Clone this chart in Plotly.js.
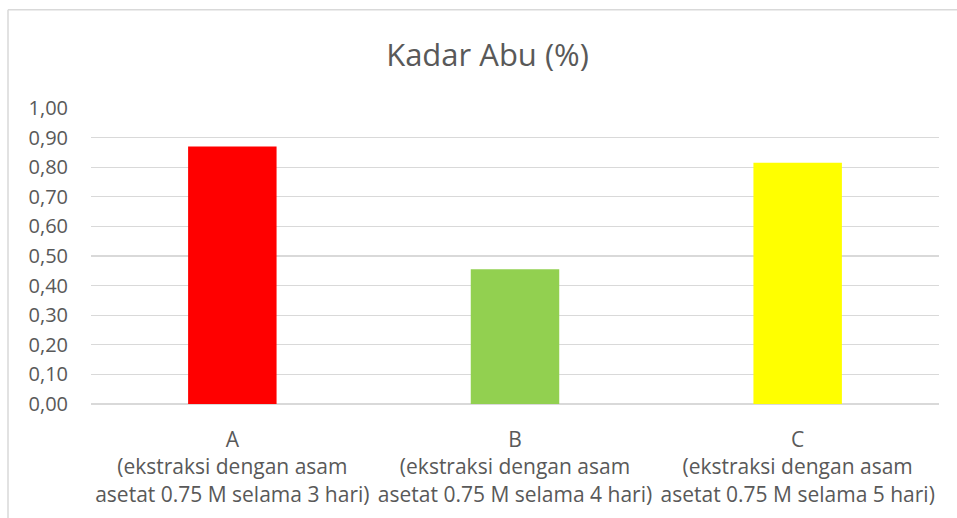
<!DOCTYPE html>
<html>
<head>
<meta charset="utf-8">
<script src="https://cdn.plot.ly/plotly-3.0.1.min.js"></script>
<style>
html,body{margin:0;padding:0;background:#fff;}
#chart{width:957px;height:518px;}
</style>
</head>
<body>
<div id="chart"></div>
<script>
const categories = [
  "A<br>(ekstraksi dengan asam<br>asetat 0.75 M selama 3 hari)",
  "B<br>(ekstraksi dengan asam<br>asetat 0.75 M selama 4 hari)",
  "C<br>(ekstraksi dengan asam<br>asetat 0.75 M selama 5 hari)"
];
const kadarAbu = [0.87, 0.455, 0.815];
const barColors = ["#FF0000", "#92D050", "#FFFF00"];
const yTickVals = [0, 0.1, 0.2, 0.3, 0.4, 0.5, 0.6, 0.7, 0.8, 0.9, 1.0];
const chartTitle = "Kadar Abu (%)";

const font = "Open Sans, sans-serif";
const textColor = "#595959";

const data = [{
  type: "bar",
  x: categories,
  y: kadarAbu,
  marker: {color: barColors, line: {width: 0}},
  hoverinfo: "none"
}];

const layout = {
  width: 957,
  height: 518,
  margin: {l: 91, r: 18, t: 108, b: 114, pad: 0},
  paper_bgcolor: "#ffffff",
  plot_bgcolor: "#ffffff",
  separators: ",.",
  showlegend: false,
  bargap: 0.687,
  font: {family: font, color: textColor},
  title: {
    text: chartTitle,
    font: {family: font, size: 31, color: textColor},
    xref: "container", yref: "container",
    x: 0.5094, xanchor: "center",
    y: 0.893, yanchor: "middle"
  },
  xaxis: {
    type: "category",
    tickangle: 0,
    ticks: "",
    showgrid: false,
    showline: false,
    zeroline: false,
    tickfont: {family: font, size: 21, color: textColor},
    ticklabelstandoff: 21
  },
  yaxis: {
    range: [0, 1.0],
    tickvals: yTickVals,
    tickformat: ".2f",
    ticks: "",
    showgrid: true,
    gridcolor: "#d9d9d9",
    gridwidth: 1.3,
    zeroline: true,
    zerolinecolor: "#d9d9d9",
    zerolinewidth: 1.3,
    showline: false,
    tickfont: {family: font, size: 20, color: textColor},
    ticklabelstandoff: 22
  },
  shapes: [
    {type: "line", xref: "paper", yref: "paper",
     x0: (8 - 91) / 848, x1: (8 - 91) / 848,
     y0: (404.3 - 10) / 296, y1: (404.3 - 600) / 296,
     line: {color: "#d9d9d9", width: 1.5}},
    {type: "line", xref: "paper", yref: "paper",
     x0: (8 - 91) / 848, x1: (990 - 91) / 848,
     y0: (404.3 - 10) / 296, y1: (404.3 - 10) / 296,
     line: {color: "#d9d9d9", width: 1.5}}
  ]
};

Plotly.newPlot("chart", data, layout, {displayModeBar: false, staticPlot: true});
</script>
</body>
</html>
